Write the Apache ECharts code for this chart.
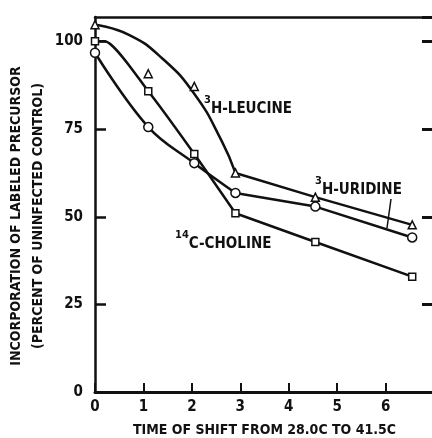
<!DOCTYPE html>
<html>
<head>
<meta charset="utf-8">
<script src="https://cdn.jsdelivr.net/npm/echarts@6/dist/echarts.min.js"></script>
<style>
  html, body { margin: 0; padding: 0; background: #fff; }
  #chart { width: 432px; height: 438px; }
</style>
</head>
<body>
<div id="chart"></div>
<script>
// measured points (time in hours, percent of control)
const times = [0, 1.1, 2.05, 2.9, 4.55, 6.55]
const leucine = [104.8, 90.8, 87.2, 62.5, 55.6, 47.7]
const uridine = [96.8, 75.6, 65.3, 56.8, 52.9, 44.1]
const choline = [100.1, 85.8, 67.9, 51.0, 42.8, 32.9]

// hand-drawn fitted curve for leucine
const leucineFitX = [0, 0.69, 1.38, 2.06, 2.62, 2.9]
const leucineFitY = [104.8, 102.0, 95.3, 84.9, 71.5, 62.5]
// short flat start of the choline line
const cholineStartX = [0, 0.2]
const cholineStartY = [100.1, 100.1]

const xTicks = ['0', '1', '2', '3', '4', '5', '6']
const yTicks = ['0', '25', '50', '75', '100']

const FONT = '"Liberation Sans Narrow", "DejaVu Sans Condensed", sans-serif'
const INK = '#111'

const pairs = (xs, ys) => xs.map((x, i) => [x, ys[i]])

const chart = echarts.init(document.getElementById('chart'))

const lineStyle = { color: INK, width: 2.5 }
function lineSeries(data, smooth) {
  return {
    type: 'line',
    data: data,
    smooth: smooth,
    showSymbol: false,
    symbol: 'none',
    lineStyle: lineStyle,
    silent: true,
    z: 2
  }
}
function markerSeries(data, symbol, size) {
  return {
    type: 'scatter',
    data: data,
    symbol: symbol,
    symbolSize: size,
    itemStyle: { color: '#fff', borderColor: INK, borderWidth: 1.5, opacity: 1 },
    z: 3
  }
}

const head = 4 // first four points are on the curved part
const uridineAll = pairs(times, uridine)
const cholineAll = pairs(times, choline)
const leucineAll = pairs(times, leucine)

const titleStyle = { fontSize: 14, fontWeight: 'bold', fontFamily: FONT, color: INK }
const rich = {
  s: { fontSize: 11, fontWeight: 'bold', fontFamily: FONT, fill: INK, verticalAlign: 'top', lineHeight: 22 },
  m: { fontSize: 15, fontWeight: 'bold', fontFamily: FONT, fill: INK, lineHeight: 22, verticalAlign: 'bottom' }
}

chart.setOption({
  animation: false,
  backgroundColor: '#fff',
  textStyle: { fontFamily: FONT, color: INK },
  grid: { left: 95, right: -2, top: 17, bottom: 46, containLabel: false, outerBoundsMode: 'none' },
  xAxis: [
    {
      type: 'value', min: 0, max: 7, interval: 1, position: 'bottom',
      axisLine: { onZero: false, lineStyle: { color: INK, width: 3 } },
      axisTick: { inside: true, length: 9, lineStyle: { color: INK, width: 2 } },
      axisLabel: {
        margin: 8, fontSize: 15, fontWeight: 'bold', fontFamily: FONT, color: INK,
        showMaxLabel: false,
        formatter: v => xTicks[v] !== undefined ? xTicks[v] : ''
      },
      splitLine: { show: false },
      name: 'TIME OF SHIFT FROM 28.0C TO 41.5C',
      nameLocation: 'middle', nameGap: 31, nameMoveOverlap: false,
      nameTextStyle: titleStyle
    },
    {
      type: 'value', min: 0, max: 7, position: 'top',
      axisLine: { onZero: false, lineStyle: { color: INK, width: 2.5 } },
      axisTick: { show: false }, axisLabel: { show: false }, splitLine: { show: false }
    }
  ],
  yAxis: [
    {
      type: 'value', min: 0, max: 107, interval: 25, position: 'left',
      axisLine: { onZero: false, lineStyle: { color: INK, width: 2.5 } },
      axisTick: { inside: true, length: 11, lineStyle: { color: INK, width: 2.5 } },
      axisLabel: {
        margin: 12, fontSize: 15, fontWeight: 'bold', fontFamily: FONT, color: INK,
        showMaxLabel: false,
        formatter: v => yTicks[v / 25] !== undefined ? yTicks[v / 25] : ''
      },
      splitLine: { show: false },
      name: 'INCORPORATION OF LABELED PRECURSOR\n(PERCENT OF UNINFECTED CONTROL)',
      nameLocation: 'middle', nameRotate: 90, nameGap: 46, nameMoveOverlap: false,
      nameTextStyle: Object.assign({ lineHeight: 22, padding: [0, 23, 0, 0] }, titleStyle)
    },
    {
      type: 'value', min: 0, max: 107, interval: 25, position: 'right',
      axisLine: { onZero: false, lineStyle: { color: INK, width: 2.5 } },
      axisTick: { inside: true, length: 12, lineStyle: { color: INK, width: 3 } },
      axisLabel: { show: false }, splitLine: { show: false }
    }
  ],
  series: [
    lineSeries(pairs(leucineFitX, leucineFitY), 0.5),
    lineSeries(leucineAll.slice(head - 1), false),
    lineSeries(uridineAll.slice(0, head), 0.4),
    lineSeries(uridineAll.slice(head - 1), false),
    lineSeries(pairs(cholineStartX, cholineStartY).concat(cholineAll.slice(1, head)), 0.2),
    lineSeries(cholineAll.slice(head - 1), false),
    markerSeries(leucineAll, 'triangle', 8),
    markerSeries(uridineAll, 'circle', 9),
    markerSeries(cholineAll, 'rect', 7)
  ],
  graphic: [
    {
      type: 'text', x: 204, y: 106,
      style: { text: '{s|3}{m|H-LEUCINE}', fill: INK, verticalAlign: 'middle', rich: rich }
    },
    {
      type: 'text', x: 315, y: 187,
      style: { text: '{s|3}{m|H-URIDINE}', fill: INK, verticalAlign: 'middle', rich: rich }
    },
    {
      type: 'text', x: 175, y: 241,
      style: { text: '{s|14}{m|C-CHOLINE}', fill: INK, verticalAlign: 'middle', rich: rich }
    },
    {
      type: 'line',
      shape: { x1: 391, y1: 199, x2: 387, y2: 228 },
      style: { stroke: INK, lineWidth: 1.5 }
    }
  ]
})

window.addEventListener('resize', () => chart.resize())
</script>
</body>
</html>
